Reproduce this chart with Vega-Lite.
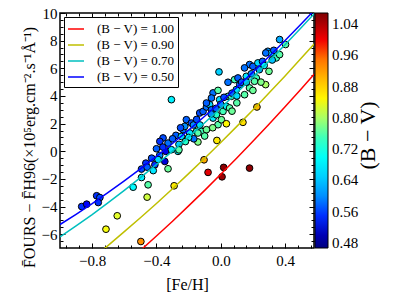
{
  "$schema": "https://vega.github.io/schema/vega-lite/v6.json",
  "width": 254,
  "height": 235,
  "autosize": "none",
  "padding": {"left": 60, "top": 13, "right": 86, "bottom": 52},
  "config": {
    "font": "Liberation Serif",
    "view": {"stroke": "#000", "strokeWidth": 1.5},
    "axis": {"grid": false, "domain": false, "tickColor": "#000", "tickWidth": 1, "labelFont": "Liberation Serif", "labelFontSize": 15, "labelColor": "#000", "titleFont": "Liberation Serif", "titleFontSize": 16, "titleFontWeight": "normal", "titleColor": "#000"},
    "legend": {"labelFont": "Liberation Serif", "titleFont": "Liberation Serif", "labelColor": "#000", "titleColor": "#000", "titleFontWeight": "normal"}
  },
  "datasets": {
    "stars": [
      {"feh": -0.865, "diff": -4.0, "bv": 0.55}, {"feh": -0.834, "diff": -3.83, "bv": 0.54}, {"feh": -0.772, "diff": -3.22, "bv": 0.55}, {"feh": -0.752, "diff": -3.35, "bv": 0.56}, {"feh": -0.762, "diff": -3.71, "bv": 0.55},
      {"feh": -0.644, "diff": -4.67, "bv": 0.83}, {"feh": -0.714, "diff": -5.64, "bv": 0.84}, {"feh": -0.497, "diff": -6.53, "bv": 0.93}, {"feh": -0.545, "diff": -2.6, "bv": 0.69}, {"feh": -0.493, "diff": -1.29, "bv": 0.56},
      {"feh": -0.466, "diff": -0.86, "bv": 0.55}, {"feh": -0.458, "diff": -1.15, "bv": 0.57}, {"feh": -0.493, "diff": -1.9, "bv": 0.68}, {"feh": -0.452, "diff": -2.43, "bv": 0.76}, {"feh": -0.458, "diff": -3.32, "bv": 0.82},
      {"feh": -0.29, "diff": -2.5, "bv": 0.86}, {"feh": -0.104, "diff": -0.62, "bv": 0.91}, {"feh": -0.079, "diff": -1.53, "bv": 1.01}, {"feh": 0.018, "diff": -1.17, "bv": 1.06}, {"feh": 0.008, "diff": -1.85, "bv": 1.05},
      {"feh": 0.179, "diff": -1.22, "bv": 1.06}, {"feh": -0.328, "diff": -1.27, "bv": 0.77}, {"feh": -0.024, "diff": 0.78, "bv": 0.86}, {"feh": -0.142, "diff": 0.67, "bv": 0.78}, {"feh": -0.41, "diff": -0.98, "bv": 0.55},
      {"feh": -0.348, "diff": -0.74, "bv": 0.52}, {"feh": -0.4, "diff": 0.18, "bv": 0.57}, {"feh": -0.359, "diff": 0.96, "bv": 0.56}, {"feh": -0.379, "diff": 0.71, "bv": 0.55}, {"feh": -0.328, "diff": 0.59, "bv": 0.58},
      {"feh": -0.342, "diff": -0.01, "bv": 0.53}, {"feh": -0.307, "diff": 0.11, "bv": 0.67}, {"feh": -0.266, "diff": -0.01, "bv": 0.68}, {"feh": -0.279, "diff": 1.15, "bv": 0.57}, {"feh": -0.245, "diff": 1.07, "bv": 0.66},
      {"feh": -0.235, "diff": 1.56, "bv": 0.58}, {"feh": -0.214, "diff": 2.28, "bv": 0.57}, {"feh": -0.183, "diff": 2.04, "bv": 0.56}, {"feh": -0.224, "diff": 1.8, "bv": 0.6}, {"feh": -0.193, "diff": 1.32, "bv": 0.67},
      {"feh": -0.151, "diff": 1.43, "bv": 0.74}, {"feh": -0.168, "diff": 0.9, "bv": 0.58}, {"feh": -0.12, "diff": 1.43, "bv": 0.75}, {"feh": -0.089, "diff": 1.56, "bv": 0.77}, {"feh": -0.131, "diff": 2.77, "bv": 0.56},
      {"feh": -0.11, "diff": 2.88, "bv": 0.57}, {"feh": -0.089, "diff": 3.2, "bv": 0.58}, {"feh": -0.069, "diff": 3.37, "bv": 0.66}, {"feh": -0.058, "diff": 3.0, "bv": 0.57}, {"feh": -0.048, "diff": 2.4, "bv": 0.67},
      {"feh": -0.027, "diff": 2.64, "bv": 0.74}, {"feh": -0.017, "diff": 1.92, "bv": 0.76}, {"feh": 0.014, "diff": 2.88, "bv": 0.75}, {"feh": 0.035, "diff": 3.25, "bv": 0.68}, {"feh": 0.055, "diff": 3.13, "bv": 0.76},
      {"feh": 0.004, "diff": 2.28, "bv": 0.77}, {"feh": 0.035, "diff": 1.99, "bv": 0.85}, {"feh": 0.138, "diff": 2.09, "bv": 0.87}, {"feh": 0.225, "diff": 3.2, "bv": 0.9}, {"feh": -0.307, "diff": 3.73, "bv": 0.68},
      {"feh": -0.011, "diff": 5.74, "bv": 0.65}, {"feh": 0.045, "diff": 4.99, "bv": 0.58}, {"feh": 0.179, "diff": 6.27, "bv": 0.58}, {"feh": 0.2, "diff": 6.14, "bv": 0.57}, {"feh": 0.231, "diff": 6.39, "bv": 0.66},
      {"feh": 0.293, "diff": 7.23, "bv": 0.6}, {"feh": 0.314, "diff": 7.11, "bv": 0.66}, {"feh": 0.366, "diff": 8.08, "bv": 0.62}, {"feh": 0.403, "diff": 7.72, "bv": 0.76}, {"feh": 0.345, "diff": 6.75, "bv": 0.75},
      {"feh": 0.366, "diff": 6.99, "bv": 0.76}, {"feh": 0.3, "diff": 5.78, "bv": 0.77}, {"feh": 0.279, "diff": 4.82, "bv": 0.8}, {"feh": 0.221, "diff": 5.3, "bv": 0.75}, {"feh": 0.21, "diff": 5.06, "bv": 0.76},
      {"feh": 0.045, "diff": 3.97, "bv": 0.75}, {"feh": -0.007, "diff": 3.73, "bv": 0.66}, {"feh": -0.048, "diff": 4.22, "bv": 0.58}, {"feh": -0.089, "diff": 3.49, "bv": 0.57}, {"feh": 0.097, "diff": 4.46, "bv": 0.67},
      {"feh": 0.118, "diff": 4.82, "bv": 0.58}, {"feh": 0.086, "diff": 5.18, "bv": 0.75}, {"feh": 0.159, "diff": 5.42, "bv": 0.67}, {"feh": 0.179, "diff": 4.58, "bv": 0.76}, {"feh": 0.148, "diff": 4.09, "bv": 0.76},
      {"feh": -0.142, "diff": 1.32, "bv": 0.76}, {"feh": 0.148, "diff": 6.03, "bv": 0.58}, {"feh": 0.107, "diff": 5.3, "bv": 0.57}, {"feh": -0.017, "diff": 4.4, "bv": 0.76}, {"feh": -0.058, "diff": 3.85, "bv": 0.58},
      {"feh": 0.28, "diff": 7.11, "bv": 0.58}, {"feh": 0.066, "diff": 3.97, "bv": 0.76},
      {"feh": -0.43, "diff": -0.5, "bv": 0.56}, {"feh": -0.38, "diff": -0.3, "bv": 0.6}, {"feh": -0.36, "diff": 0.3, "bv": 0.55}, {"feh": -0.3, "diff": 0.9, "bv": 0.57}, {"feh": -0.26, "diff": 0.5, "bv": 0.65},
      {"feh": -0.25, "diff": 1.7, "bv": 0.56}, {"feh": -0.2, "diff": 1.0, "bv": 0.68}, {"feh": -0.17, "diff": 1.9, "bv": 0.6}, {"feh": -0.15, "diff": 2.3, "bv": 0.56}, {"feh": -0.13, "diff": 1.9, "bv": 0.66},
      {"feh": -0.06, "diff": 2.7, "bv": 0.6}, {"feh": -0.03, "diff": 3.1, "bv": 0.57}, {"feh": 0.0, "diff": 3.4, "bv": 0.6}, {"feh": 0.02, "diff": 3.9, "bv": 0.56}, {"feh": 0.07, "diff": 4.2, "bv": 0.58},
      {"feh": 0.1, "diff": 4.0, "bv": 0.66}, {"feh": 0.13, "diff": 5.0, "bv": 0.57}, {"feh": 0.16, "diff": 5.0, "bv": 0.64}, {"feh": 0.19, "diff": 5.6, "bv": 0.6}, {"feh": 0.24, "diff": 5.9, "bv": 0.62},
      {"feh": 0.26, "diff": 6.5, "bv": 0.57}, {"feh": 0.27, "diff": 6.2, "bv": 0.68}, {"feh": 0.32, "diff": 6.6, "bv": 0.64}, {"feh": 0.33, "diff": 7.3, "bv": 0.57}, {"feh": -0.39, "diff": -0.6, "bv": 0.66},
      {"feh": -0.42, "diff": -1.4, "bv": 0.67}, {"feh": -0.22, "diff": 0.7, "bv": 0.74}, {"feh": -0.1, "diff": 1.1, "bv": 0.76}, {"feh": -0.05, "diff": 1.7, "bv": 0.78}, {"feh": 0.07, "diff": 2.9, "bv": 0.77},
      {"feh": 0.1, "diff": 3.5, "bv": 0.76}, {"feh": 0.2, "diff": 4.4, "bv": 0.77}, {"feh": 0.25, "diff": 5.0, "bv": 0.78}, {"feh": -0.26, "diff": 0.1, "bv": 0.76}
    ],
    "fits": [
      {"curve": "(B − V) = 1.00", "feh": -0.6, "diff": -8.2}, {"curve": "(B − V) = 1.00", "feh": -0.5, "diff": -7.18}, {"curve": "(B − V) = 1.00", "feh": -0.4, "diff": -6.13}, {"curve": "(B − V) = 1.00", "feh": -0.3, "diff": -5.06}, {"curve": "(B − V) = 1.00", "feh": -0.2, "diff": -3.95}, {"curve": "(B − V) = 1.00", "feh": -0.1, "diff": -2.83}, {"curve": "(B − V) = 1.00", "feh": 0.0, "diff": -1.67}, {"curve": "(B − V) = 1.00", "feh": 0.1, "diff": -0.49}, {"curve": "(B − V) = 1.00", "feh": 0.2, "diff": 0.72}, {"curve": "(B − V) = 1.00", "feh": 0.3, "diff": 1.96}, {"curve": "(B − V) = 1.00", "feh": 0.4, "diff": 3.22}, {"curve": "(B − V) = 1.00", "feh": 0.5, "diff": 4.51}, {"curve": "(B − V) = 1.00", "feh": 0.6, "diff": 5.83},
      {"curve": "(B − V) = 0.90", "feh": -0.8, "diff": -7.77}, {"curve": "(B − V) = 0.90", "feh": -0.7, "diff": -6.81}, {"curve": "(B − V) = 0.90", "feh": -0.6, "diff": -5.82}, {"curve": "(B − V) = 0.90", "feh": -0.5, "diff": -4.81}, {"curve": "(B − V) = 0.90", "feh": -0.4, "diff": -3.78}, {"curve": "(B − V) = 0.90", "feh": -0.3, "diff": -2.71}, {"curve": "(B − V) = 0.90", "feh": -0.2, "diff": -1.62}, {"curve": "(B − V) = 0.90", "feh": -0.1, "diff": -0.51}, {"curve": "(B − V) = 0.90", "feh": 0.0, "diff": 0.63}, {"curve": "(B − V) = 0.90", "feh": 0.1, "diff": 1.8}, {"curve": "(B − V) = 0.90", "feh": 0.2, "diff": 2.99}, {"curve": "(B − V) = 0.90", "feh": 0.3, "diff": 4.21}, {"curve": "(B − V) = 0.90", "feh": 0.4, "diff": 5.45}, {"curve": "(B − V) = 0.90", "feh": 0.5, "diff": 6.72}, {"curve": "(B − V) = 0.90", "feh": 0.6, "diff": 8.01},
      {"curve": "(B − V) = 0.70", "feh": -1.0, "diff": -6.2}, {"curve": "(B − V) = 0.70", "feh": -0.9, "diff": -5.4}, {"curve": "(B − V) = 0.70", "feh": -0.8, "diff": -4.58}, {"curve": "(B − V) = 0.70", "feh": -0.7, "diff": -3.72}, {"curve": "(B − V) = 0.70", "feh": -0.6, "diff": -2.83}, {"curve": "(B − V) = 0.70", "feh": -0.5, "diff": -1.91}, {"curve": "(B − V) = 0.70", "feh": -0.4, "diff": -0.96}, {"curve": "(B − V) = 0.70", "feh": -0.3, "diff": 0.01}, {"curve": "(B − V) = 0.70", "feh": -0.2, "diff": 1.02}, {"curve": "(B − V) = 0.70", "feh": -0.1, "diff": 2.06}, {"curve": "(B − V) = 0.70", "feh": 0.0, "diff": 3.13}, {"curve": "(B − V) = 0.70", "feh": 0.1, "diff": 4.23}, {"curve": "(B − V) = 0.70", "feh": 0.2, "diff": 5.36}, {"curve": "(B − V) = 0.70", "feh": 0.3, "diff": 6.52}, {"curve": "(B − V) = 0.70", "feh": 0.4, "diff": 7.71}, {"curve": "(B − V) = 0.70", "feh": 0.5, "diff": 8.93}, {"curve": "(B − V) = 0.70", "feh": 0.6, "diff": 10.18},
      {"curve": "(B − V) = 0.50", "feh": -1.0, "diff": -5.3}, {"curve": "(B − V) = 0.50", "feh": -0.9, "diff": -4.56}, {"curve": "(B − V) = 0.50", "feh": -0.8, "diff": -3.79}, {"curve": "(B − V) = 0.50", "feh": -0.7, "diff": -2.98}, {"curve": "(B − V) = 0.50", "feh": -0.6, "diff": -2.14}, {"curve": "(B − V) = 0.50", "feh": -0.5, "diff": -1.27}, {"curve": "(B − V) = 0.50", "feh": -0.4, "diff": -0.37}, {"curve": "(B − V) = 0.50", "feh": -0.3, "diff": 0.56}, {"curve": "(B − V) = 0.50", "feh": -0.2, "diff": 1.53}, {"curve": "(B − V) = 0.50", "feh": -0.1, "diff": 2.53}, {"curve": "(B − V) = 0.50", "feh": 0.0, "diff": 3.56}, {"curve": "(B − V) = 0.50", "feh": 0.1, "diff": 4.62}, {"curve": "(B − V) = 0.50", "feh": 0.2, "diff": 5.72}, {"curve": "(B − V) = 0.50", "feh": 0.3, "diff": 6.85}, {"curve": "(B − V) = 0.50", "feh": 0.4, "diff": 8.01}, {"curve": "(B − V) = 0.50", "feh": 0.5, "diff": 9.2}, {"curve": "(B − V) = 0.50", "feh": 0.6, "diff": 10.42}
    ]
  },
  "layer": [
    {
      "data": {"name": "stars"},
      "mark": {"type": "circle", "size": 45, "stroke": "#000", "strokeWidth": 1, "fillOpacity": 1, "opacity": 1},
      "encoding": {
        "x": {"field": "feh", "type": "quantitative", "scale": {"domain": [-1.0, 0.58], "nice": false, "zero": false},
              "axis": {"orient": "bottom", "values": [-0.8, -0.4, 0, 0.4], "format": ".1f", "tickSize": -5, "labelPadding": 10, "title": "[Fe/H]", "titlePadding": 8}},
        "y": {"field": "diff", "type": "quantitative", "scale": {"domain": [-7, 10], "nice": false, "zero": false},
              "axis": {"orient": "left", "values": [-6, -4, -2, 0, 2, 4, 6, 8, 10], "format": "d", "tickSize": -5, "labelPadding": 8, "title": "F̄OURS − F̄H96(×10⁵erg.cm⁻².s⁻¹Å⁻¹)", "titleFontSize": 16, "titlePadding": 4, "titleY": 134}},
        "fill": {"field": "bv", "type": "quantitative",
                 "scale": {"domain": [0.467, 0.542, 0.692, 0.843, 0.993, 1.068], "range": ["#00007f", "#0000ff", "#00ffff", "#ffff00", "#ff0000", "#7f0000"]},
                 "legend": {"orient": "right", "offset": -63, "direction": "vertical", "gradientLength": 235, "gradientThickness": 13, "gradientStrokeColor": "#000", "gradientStrokeWidth": 1,
                            "values": [0.48, 0.56, 0.64, 0.72, 0.8, 0.88, 0.96, 1.04], "format": ".2f", "labelFontSize": 15, "labelOffset": 4, "labelOverlap": false,
                            "title": null}}
      }
    },
    {
      "data": {"name": "fits"},
      "mark": {"type": "line", "clip": true, "strokeWidth": 1.5},
      "encoding": {
        "x": {"field": "feh", "type": "quantitative", "axis": {"orient": "top", "values": [-0.8, -0.4, 0, 0.4], "labels": false, "tickSize": -5, "title": null}},
        "y": {"field": "diff", "type": "quantitative", "axis": {"orient": "right", "values": [-6, -4, -2, 0, 2, 4, 6, 8, 10], "labels": false, "tickSize": -5,
              "title": "(B − V)", "titleFontSize": 22, "titleAngle": 270, "titleAlign": "center", "titleBaseline": "middle", "titleX": 53, "titleY": 122}},
        "stroke": {"field": "curve", "type": "nominal",
                   "scale": {"domain": ["(B − V) = 1.00", "(B − V) = 0.90", "(B − V) = 0.70", "(B − V) = 0.50"], "range": ["#ff0000", "#bfbf00", "#00bfbf", "#0000ff"]},
                   "legend": {"orient": "top-left", "offset": 4, "padding": 3, "title": null, "strokeColor": "#000", "fillColor": "#fff", "symbolType": "stroke", "symbolSize": 256, "symbolStrokeWidth": 1.5, "labelFontSize": 13, "labelOffset": 12, "rowPadding": 0}},
        "order": {"field": "feh", "type": "quantitative"}
      }
    },
    {
      "data": {"name": "stars"},
      "mark": {"type": "circle", "opacity": 0},
      "encoding": {
        "x": {"field": "feh", "type": "quantitative", "axis": {"orient": "bottom", "values": [-0.96, -0.88, -0.72, -0.64, -0.56, -0.48, -0.32, -0.24, -0.16, -0.08, 0.08, 0.16, 0.24, 0.32, 0.48, 0.56], "labels": false, "tickSize": -3, "title": null}},
        "y": {"field": "diff", "type": "quantitative", "axis": {"orient": "left", "values": [-6.5, -5.5, -5, -4.5, -3.5, -3, -2.5, -1.5, -1, -0.5, 0.5, 1, 1.5, 2.5, 3, 3.5, 4.5, 5, 5.5, 6.5, 7, 7.5, 8.5, 9, 9.5], "labels": false, "tickSize": -3, "title": null}}
      }
    },
    {
      "data": {"name": "stars"},
      "mark": {"type": "circle", "opacity": 0},
      "encoding": {
        "x": {"field": "feh", "type": "quantitative", "axis": {"orient": "top", "values": [-0.96, -0.88, -0.72, -0.64, -0.56, -0.48, -0.32, -0.24, -0.16, -0.08, 0.08, 0.16, 0.24, 0.32, 0.48, 0.56], "labels": false, "tickSize": -3, "title": null}},
        "y": {"field": "diff", "type": "quantitative", "axis": {"orient": "right", "values": [-6.5, -5.5, -5, -4.5, -3.5, -3, -2.5, -1.5, -1, -0.5, 0.5, 1, 1.5, 2.5, 3, 3.5, 4.5, 5, 5.5, 6.5, 7, 7.5, 8.5, 9, 9.5], "labels": false, "tickSize": -3, "title": null}}
      }
    }
  ],
  "resolve": {"axis": {"x": "independent", "y": "independent"}}
}
